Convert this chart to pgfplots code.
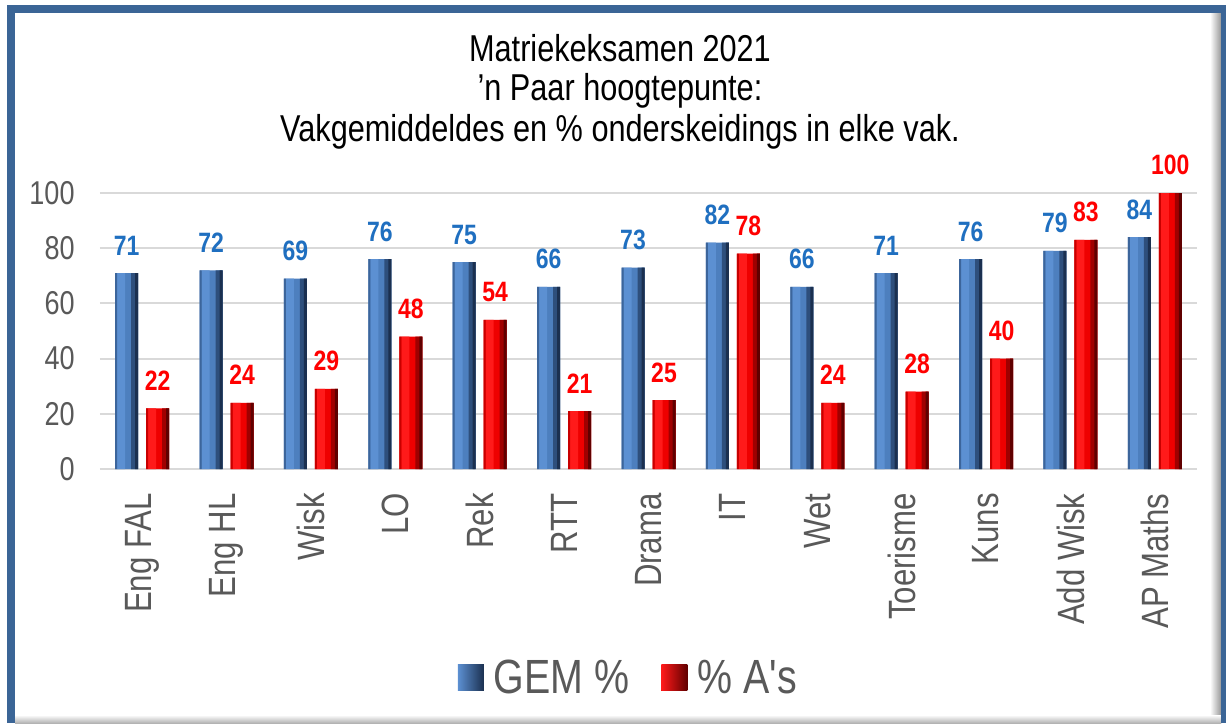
\documentclass[border=0pt]{standalone}
\usepackage{fontspec}
\setmainfont{Liberation Sans}[FakeStretch=0.82, Ligatures=TeXOff]
\usepackage{pgfplots}
\usepackage{pgfplotstable}
\pgfplotsset{compat=1.18}
\definecolor{frameblue}{HTML}{3B6596}
\definecolor{gridgray}{HTML}{D9D9D9}
\definecolor{textgray}{HTML}{595959}
\definecolor{labelblue}{HTML}{1F6FC0}
\definecolor{labelred}{HTML}{FF0000}
\definecolor{bBase}{HTML}{4D7FBE}
\definecolor{bLight}{HTML}{5C90D2}
\definecolor{bDark}{HTML}{2E4F7C}
\definecolor{bDarker}{HTML}{1B3050}
\definecolor{bEdge}{HTML}{3C659B}
\definecolor{rBase}{HTML}{EE0000}
\definecolor{rLight}{HTML}{FF1A1A}
\definecolor{rDark}{HTML}{A00000}
\definecolor{rDarker}{HTML}{600000}
\definecolor{rEdge}{HTML}{C80000}
\pgfplotstableread{
x gem a
0 71 22
1 72 24
2 69 29
3 76 48
4 75 54
5 66 21
6 73 25
7 82 78
8 66 24
9 71 28
10 76 40
11 79 83
12 84 100
}\datatable
\begin{document}
\begin{tikzpicture}
\useasboundingbox (0,0) rectangle (613pt,361.5pt);
\fill[white] (0,0) rectangle (613pt,361.5pt);
% inner shadows
\shade[left color=white, right color=black!40] (605pt,0) rectangle (610.5pt,355pt);
\shade[top color=white, bottom color=black!30] (7.5pt,0) rectangle (610.5pt,4pt);
% frame
\fill[frameblue] (3.5pt,0) rectangle (7.5pt,359pt);
\fill[frameblue] (3.5pt,355pt) rectangle (613pt,359pt);
\fill[frameblue] (610.5pt,0) rectangle (613pt,359pt);
% title
\node[anchor=base, font=\fontsize{18.7}{21}\selectfont, text=black] at (310pt,330.5pt) {Matriekeksamen 2021};
\node[anchor=base, font=\fontsize{18.7}{21}\selectfont, text=black] at (310pt,311pt) {’n Paar hoogtepunte:};
\node[anchor=base, font=\fontsize{18.7}{21}\selectfont, text=black] at (310pt,290.5pt) {Vakgemiddeldes en \% onderskeidings in elke vak.};
\begin{axis}[
  at={(50pt,127pt)}, anchor=south west,
  scale only axis, width=548.5pt, height=138pt,
  xmin=-0.5, xmax=12.5, ymin=0, ymax=100,
  clip=false,
  axis line style={draw=none},
  major tick length=0pt,
  ytick={0,20,...,100},
  xtick={0,...,12},
  xticklabels={Eng FAL, Eng HL, Wisk, LO, Rek, RTT, Drama, IT, Wet, Toerisme, Kuns, Add Wisk, AP Maths},
  ymajorgrids,
  grid style={draw=gridgray, line width=1pt},
  /pgf/number format/assume math mode=true,
  yticklabel style={font=\fontsize{16.5}{18}\selectfont, text=textgray, anchor=east, inner sep=0pt},
  yticklabel shift=12.5pt,
  xticklabel style={font=\fontsize{19}{22}\selectfont, text=textgray, rotate=90, anchor=east, inner sep=0pt},
  xticklabel shift=12pt,
  legend columns=2,
  legend style={at={(0.4825,-0.757)}, anchor=center, draw=none, fill=none,
    font=\fontsize{24}{28}\selectfont, text=textgray,
    /tikz/every odd column/.append style={column sep=3pt},
    /tikz/every even column/.append style={column sep=14pt}},
  legend cell align=left,
  every axis plot/.append style={ybar, draw=none, bar width=11.5pt},
]
\addplot[fill=bBase, bar shift=-7.75pt,
  legend image code/.code={\shade[left color=bLight, right color=bDarker] (0pt,-6.5pt) rectangle (13pt,6.5pt);}]
  table[x=x, y=gem] {\datatable};
\addlegendentry{GEM \%}
\addplot[fill=rBase, bar shift=7.75pt,
  legend image code/.code={\shade[left color=rLight, right color=rDarker] (0pt,-6.5pt) rectangle (13pt,6.5pt);}]
  table[x=x, y=a] {\datatable};
\addlegendentry{\% A's}
\addplot[forget plot, fill=bLight, bar width=4pt, bar shift=-10.5pt] table[x=x, y=gem] {\datatable};
\addplot[forget plot, fill=bDark, bar width=3.5pt, bar shift=-3.75pt] table[x=x, y=gem] {\datatable};
\addplot[forget plot, fill=bDarker, bar width=1.5pt, bar shift=-2.75pt] table[x=x, y=gem] {\datatable};
\addplot[forget plot, fill=bEdge, bar width=1pt, bar shift=-13pt] table[x=x, y=gem] {\datatable};
\addplot[forget plot, fill=rLight, bar width=4pt, bar shift=5pt] table[x=x, y=a] {\datatable};
\addplot[forget plot, fill=rDark, bar width=3.5pt, bar shift=11.75pt] table[x=x, y=a] {\datatable};
\addplot[forget plot, fill=rDarker, bar width=1.5pt, bar shift=12.75pt] table[x=x, y=a] {\datatable};
\addplot[forget plot, fill=rEdge, bar width=1pt, bar shift=2.5pt] table[x=x, y=a] {\datatable};
% value labels
\addplot[forget plot, fill=none, bar shift=-7.75pt,
  nodes near coords,
  nodes near coords style={font=\fontsize{14}{16}\selectfont\bfseries, text=labelblue, anchor=base, inner sep=0pt, yshift=9pt, xshift=-7.75pt}]
  table[x=x, y=gem] {\datatable};
\addplot[forget plot, fill=none, bar shift=7.75pt,
  nodes near coords,
  nodes near coords style={font=\fontsize{14}{16}\selectfont\bfseries, text=labelred, anchor=base, inner sep=0pt, yshift=9pt, xshift=7.75pt}]
  table[x=x, y=a] {\datatable};
\end{axis}
\end{tikzpicture}
\end{document}
